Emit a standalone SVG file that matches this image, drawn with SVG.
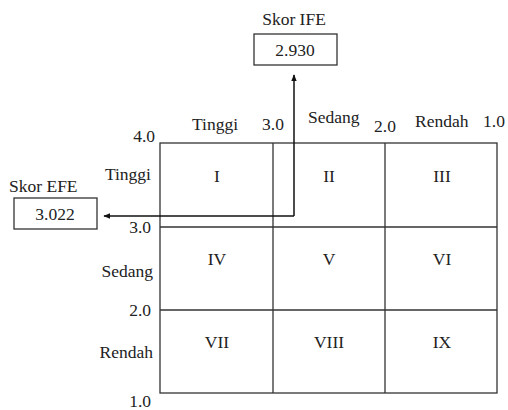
<svg xmlns="http://www.w3.org/2000/svg" width="508" height="410" viewBox="0 0 508 410">
<style>
text{font-family:"Liberation Serif","Times New Roman",serif;font-size:17.5px;fill:#222}
.c{text-anchor:middle}
.e{text-anchor:end}
.g{fill:none;stroke:#333;stroke-width:1.3}
.b{fill:#fff;stroke:#333;stroke-width:1.3}
.a{fill:none;stroke:#111;stroke-width:1.5}
</style>
<defs>
<marker id="ah" viewBox="0 0 10 10" refX="9" refY="5" markerWidth="7" markerHeight="7" orient="auto" markerUnits="userSpaceOnUse">
<path d="M0,1 L10,5 L0,9 Z" fill="#111"/>
</marker>
</defs>
<rect width="508" height="410" fill="#fff"/>
<g id="matrix">
<rect class="g" x="160" y="143" width="337" height="250"/>
<line class="g" x1="273" y1="143" x2="273" y2="393"/>
<line class="g" x1="385" y1="143" x2="385" y2="393"/>
<line class="g" x1="160" y1="227" x2="497" y2="227"/>
<line class="g" x1="160" y1="310" x2="497" y2="310"/>
</g>
<g id="cells">
<text class="c" x="217" y="182">I</text>
<text class="c" x="329" y="182">II</text>
<text class="c" x="442" y="182">III</text>
<text class="c" x="217" y="265">IV</text>
<text class="c" x="329" y="265">V</text>
<text class="c" x="442" y="265">VI</text>
<text class="c" x="217" y="348">VII</text>
<text class="c" x="329" y="348">VIII</text>
<text class="c" x="442" y="348">IX</text>
</g>
<g id="axis-top">
<text x="192" y="130">Tinggi</text>
<text x="262" y="130">3.0</text>
<text x="308" y="123">Sedang</text>
<text x="374" y="132">2.0</text>
<text x="415" y="127">Rendah</text>
<text x="483" y="127">1.0</text>
</g>
<g id="axis-left">
<text class="e" x="155" y="142">4.0</text>
<text class="e" x="151" y="180">Tinggi</text>
<text class="e" x="151" y="233">3.0</text>
<text class="e" x="153" y="277">Sedang</text>
<text class="e" x="151" y="316">2.0</text>
<text class="e" x="153" y="358">Rendah</text>
<text class="e" x="151" y="407">1.0</text>
</g>
<g id="ife">
<text class="c" x="294" y="25">Skor IFE</text>
<rect class="b" x="254" y="34" width="83" height="31"/>
<text class="c" x="295" y="56">2.930</text>
</g>
<g id="efe">
<text x="9" y="192">Skor EFE</text>
<rect class="b" x="14" y="198" width="83" height="31"/>
<text class="c" x="55" y="220">3.022</text>
</g>
<g id="connectors">
<line class="a" x1="294" y1="216" x2="294" y2="75" marker-end="url(#ah)"/>
<line class="a" x1="294" y1="216" x2="104" y2="216" marker-end="url(#ah)"/>
</g>
</svg>
